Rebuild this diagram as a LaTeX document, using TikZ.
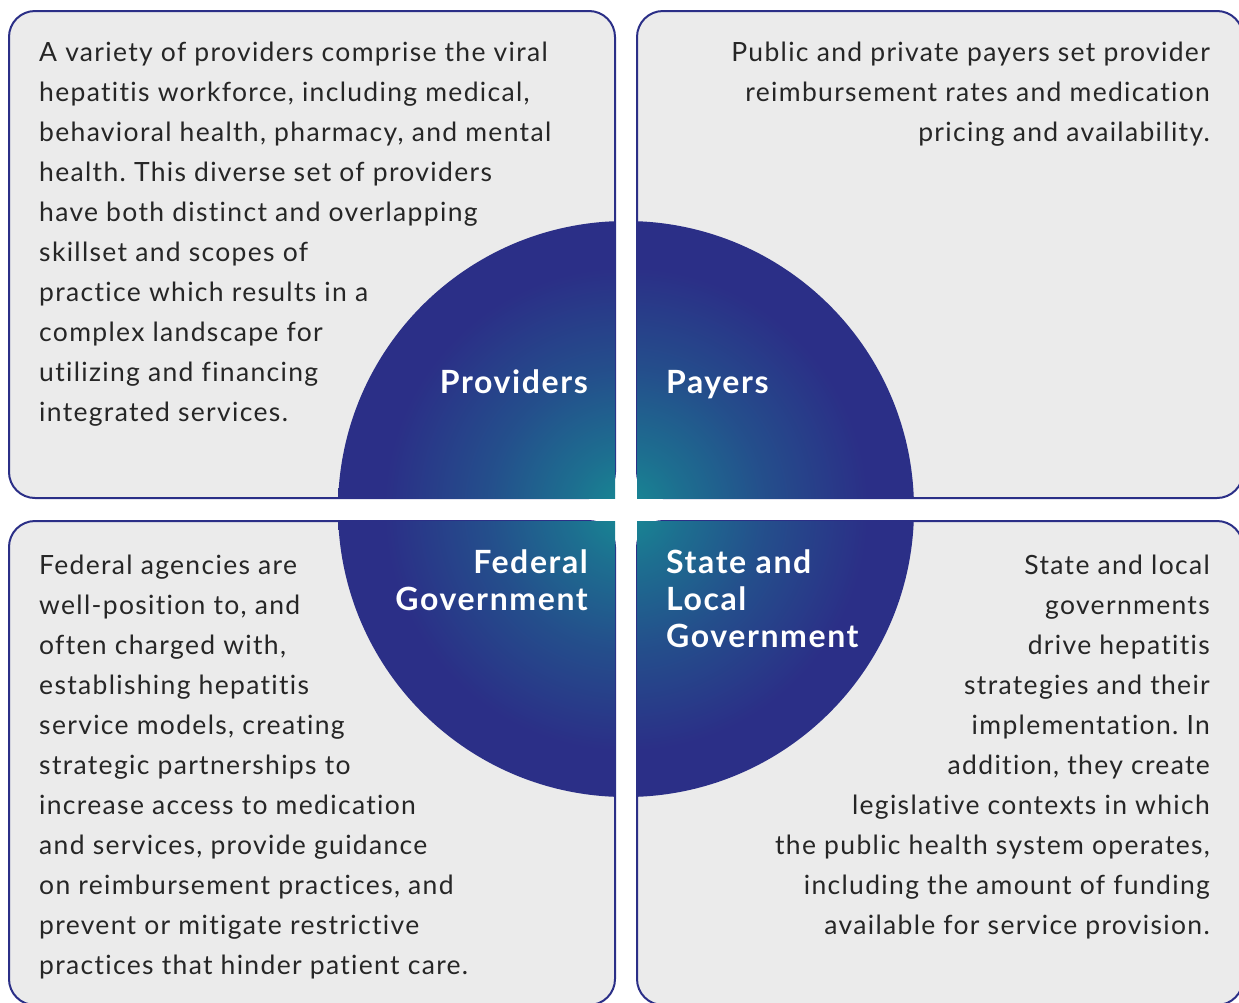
\documentclass[tikz,border=0pt]{standalone}
\usepackage{fontspec}
\setmainfont{Lato}[LetterSpace=5,Ligatures=NoCommon]
\frenchspacing
\definecolor{navy}{HTML}{2B2F87}
\definecolor{glow}{HTML}{178A94}
\definecolor{panel}{HTML}{EBEBEB}
\definecolor{ink}{HTML}{262626}
\pgfdeclareradialshading{hubglow}{\pgfpoint{0bp}{0bp}}{%
  color(0bp)=(glow); color(5bp)=(glow!70!navy); color(12bp)=(glow!35!navy);
  color(21bp)=(navy); color(50bp)=(navy)}
\tikzset{
  panelbox/.style={draw=navy,fill=panel,line width=2pt,rounded corners=26pt},
  bodytext/.style={inner sep=0pt,text=ink,font=\fontsize{26.5}{40}\selectfont},
  quadlabel/.style={inner sep=0pt,text=white,font=\bfseries\fontsize{32}{37}\selectfont}
}
\begin{document}
\begin{tikzpicture}[x=1pt,y=-1pt]
    \useasboundingbox (0,0) rectangle (1239,1002);
    \clip (0,0) rectangle (1239,1002);
    % four panels
    \draw[panelbox] (9,11) rectangle (615,498);
    \draw[panelbox] (637,11) rectangle (1243,498);
    \draw[panelbox] (9,521) rectangle (615,1005);
    \draw[panelbox] (637,521) rectangle (1243,1005);
    % circle split in quarters
    \coordinate (hub) at (626,509);
    \foreach \xa/\ya/\xb/\yb in {338/220/615/498, 637/220/915/498, 338/521/615/798, 637/521/915/798} {
        \begin{scope}
            \clip (\xa,\ya) rectangle (\xb,\yb);
            \shade[shading=hubglow] (hub) circle (288);
        \end{scope}
    }
    % labels on the quarters
    \node[quadlabel,anchor=base east] (providers) at (588,393) {Providers};
    \node[quadlabel,anchor=base west] (payers) at (666,393) {Payers};
    \node[quadlabel,anchor=north east,align=right] (federal) at (588,550) {Federal\\Government};
    \node[quadlabel,anchor=north west,align=left] (state) at (666,550) {State and\\Local\\Government};
    % panel texts
    \node[bodytext,anchor=north west,align=left] (providerstext) at (39,42) {A variety of providers comprise the viral\\hepatitis workforce, including medical,\\behavioral health, pharmacy, and mental\\health. This diverse set of providers\\have both distinct and overlapping\\skillset and scopes of\\practice which results in a\\complex landscape for\\utilizing and financing\\integrated services.};
    \node[bodytext,anchor=north east,align=right] (payerstext) at (1210,42) {Public and private payers set provider\\reimbursement rates and medication\\pricing and availability.};
    \node[bodytext,anchor=north west,align=left] (federaltext) at (39,555) {Federal agencies are\\well-position to, and\\often charged with,\\establishing hepatitis\\service models, creating\\strategic partnerships to\\increase access to medication\\and services, provide guidance\\on reimbursement practices, and\\prevent or mitigate restrictive\\practices that hinder patient care.};
    \node[bodytext,anchor=north east,align=right] (statetext) at (1210,555) {State and local\\governments\\drive hepatitis\\strategies and their\\implementation. In\\addition, they create\\legislative contexts in which\\the public health system operates,\\including the amount of funding\\available for service provision.};
\end{tikzpicture}
\end{document}
